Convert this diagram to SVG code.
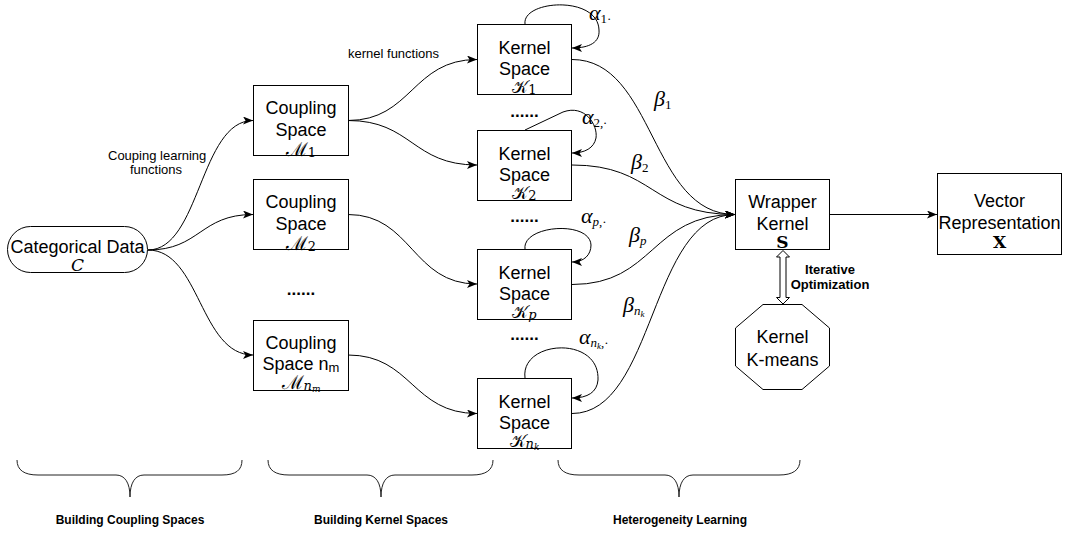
<svg xmlns="http://www.w3.org/2000/svg" width="1065" height="533" viewBox="0 0 1065 533">
  <style>
    .box { fill: #fff; stroke: #000; stroke-width: 1; }
    .edge { fill: none; stroke: #000; stroke-width: 1; }
    .lbl { font-family: "Liberation Sans", Arial, sans-serif; font-size: 18px; fill: #000; text-anchor: middle; }
    .small { font-family: "Liberation Sans", Arial, sans-serif; font-size: 13px; fill: #000; }
    .bold { font-family: "Liberation Sans", Arial, sans-serif; font-weight: bold; fill: #000; text-anchor: middle; }
    .dots { font-family: "Liberation Sans", Arial, sans-serif; font-weight: bold; font-size: 17px; fill: #000; text-anchor: middle; }
    .math { font-family: "DejaVu Serif", "Liberation Serif", serif; font-size: 17px; fill: #000; text-anchor: middle; }
    .cal { font-size: 19px; }
    .greek { font-family: "Liberation Serif", "DejaVu Serif", serif; font-style: italic; font-size: 22px; fill: #000; }
    .sub { font-size: 13px; }
    .subsub { font-size: 9px; }
  </style>
  <defs>
    <marker id="arrow" markerUnits="userSpaceOnUse" markerWidth="10" markerHeight="8" refX="10" refY="4" orient="auto">
      <path d="M0,0 L10,4 L0,8 L2.5,4 z" fill="#000"/>
    </marker>
  </defs>

  <!-- connectors -->
  <g id="connectors">
    <!-- categorical data to coupling spaces -->
    <path class="edge" d="M148,250 C200,250 200,120.5 253,120.5" marker-end="url(#arrow)"/>
    <path class="edge" d="M148,250 C200,250 200,214.5 253,214.5" marker-end="url(#arrow)"/>
    <path class="edge" d="M148,250 C200,250 200,355 253,355" marker-end="url(#arrow)"/>
    <!-- coupling spaces to kernel spaces -->
    <path class="edge" d="M348,120.5 C412,120.5 412,59.5 477,59.5" marker-end="url(#arrow)"/>
    <path class="edge" d="M348,120.5 C412,120.5 412,165 477,165" marker-end="url(#arrow)"/>
    <path class="edge" d="M348,214.5 C412,214.5 412,284 477,284" marker-end="url(#arrow)"/>
    <path class="edge" d="M348,355 C412,355 412,413.5 477,413.5" marker-end="url(#arrow)"/>
    <!-- kernel spaces to wrapper kernel -->
    <path class="edge" d="M572,59.5 C655,59.5 650,214.5 735,214.5" marker-end="url(#arrow)"/>
    <path class="edge" d="M572,165 C655,165 650,214.5 735,214.5" marker-end="url(#arrow)"/>
    <path class="edge" d="M572,284.5 C655,284.5 650,214.5 735,214.5" marker-end="url(#arrow)"/>
    <path class="edge" d="M572,413.5 C655,413.5 650,214.5 735,214.5" marker-end="url(#arrow)"/>
    <!-- self loops on kernel spaces -->
    <path class="edge" d="M525,24 C522,0 598,-5 599,30 C600,42 590,48 572,48" marker-end="url(#arrow)"/>
    <path class="edge" d="M525,130 L563,112 C585,104 598,125 596,138 C594,148 585,153 572,153" marker-end="url(#arrow)"/>
    <path class="edge" d="M525,249 C522,225 590,220 591,245 C591,255 584,262 572,262" marker-end="url(#arrow)"/>
    <path class="edge" d="M525,378 C520,340 600,335 598,380 C597,392 588,398 572,398" marker-end="url(#arrow)"/>
    <!-- wrapper kernel to vector representation -->
    <path class="edge" d="M830,214.5 L937,214.5" marker-end="url(#arrow)"/>
    <!-- iterative optimization (two-way block arrow) -->
    <polygon class="box" points="783,250.5 789.5,257 786,257 786,297.5 789.5,297.5 783,304 776.5,297.5 780,297.5 780,257 776.5,257"/>
  </g>

  <!-- edge labels -->
  <g id="edge-labels">
    <text class="small" x="108" y="160" font-size="14">Couping learning</text>
    <text class="small" x="156" y="174" font-size="14" text-anchor="middle">functions</text>
    <text class="small" x="348" y="58">kernel functions</text>

    <text class="greek" x="589" y="20">α<tspan class="sub" dy="3" font-style="normal">1·</tspan></text>
    <text class="greek" x="582" y="124">α<tspan class="sub" dy="3" font-style="normal">2</tspan><tspan class="sub">,·</tspan></text>
    <text class="greek" x="581" y="223">α<tspan class="sub" dy="3">p</tspan><tspan class="sub" font-style="normal">,·</tspan></text>
    <text class="greek" x="579" y="344">α<tspan class="sub" dy="3">n</tspan><tspan class="subsub" dy="2">k</tspan><tspan class="sub" dy="-2" font-style="normal">,·</tspan></text>

    <text class="greek" x="654" y="106">β<tspan class="sub" dy="3" font-style="normal">1</tspan></text>
    <text class="greek" x="631" y="169">β<tspan class="sub" dy="3" font-style="normal">2</tspan></text>
    <text class="greek" x="629" y="242">β<tspan class="sub" dy="3">p</tspan></text>
    <text class="greek" x="623" y="312">β<tspan class="sub" dy="3">n</tspan><tspan class="subsub" dy="2">k</tspan></text>

    <text class="bold" x="830" y="274" font-size="13">Iterative</text>
    <text class="bold" x="830" y="289" font-size="13">Optimization</text>
  </g>

  <!-- ellipsis markers between repeated nodes -->
  <g id="ellipses">
    <text class="dots" x="301" y="295">......</text>
    <text class="dots" x="524.5" y="117">......</text>
    <text class="dots" x="524.5" y="222">......</text>
    <text class="dots" x="524.5" y="340">......</text>
  </g>

  <!-- input -->
  <g id="categorical-data">
    <rect class="box" x="7.5" y="226.5" width="140" height="46" rx="23" ry="23"/>
    <text class="lbl" x="77.5" y="253">Categorical Data</text>
    <text class="math" x="77.5" y="271" font-family="Liberation Serif, serif" font-style="italic" font-size="19">C</text>
  </g>

  <!-- coupling spaces -->
  <g id="coupling-space-1">
    <rect class="box" x="253.5" y="85.5" width="95" height="70"/>
    <text class="lbl" x="301" y="114">Coupling</text>
    <text class="lbl" x="301" y="136">Space</text>
    <text class="math" x="301" y="156"><tspan class="cal">ℳ</tspan><tspan class="sub" dy="1">1</tspan></text>
  </g>
  <g id="coupling-space-2">
    <rect class="box" x="253.5" y="179.5" width="95" height="70"/>
    <text class="lbl" x="301" y="208">Coupling</text>
    <text class="lbl" x="301" y="230">Space</text>
    <text class="math" x="301" y="250"><tspan class="cal">ℳ</tspan><tspan class="sub" dy="1">2</tspan></text>
  </g>
  <g id="coupling-space-nm">
    <rect class="box" x="253.5" y="320.5" width="95" height="70"/>
    <text class="lbl" x="301" y="349">Coupling</text>
    <text class="lbl" x="301" y="370">Space n<tspan font-size="13" dy="2">m</tspan></text>
    <text class="math" x="301" y="389"><tspan class="cal">ℳ</tspan><tspan class="sub" dy="1" font-style="italic">n</tspan><tspan class="subsub" dy="2" font-style="italic">m</tspan></text>
  </g>

  <!-- kernel spaces -->
  <g id="kernel-space-1">
    <rect class="box" x="477.5" y="24.5" width="94" height="70"/>
    <text class="lbl" x="524.5" y="54">Kernel</text>
    <text class="lbl" x="524.5" y="75">Space</text>
    <text class="math" x="524.5" y="93">𝒦<tspan class="sub" dy="1">1</tspan></text>
  </g>
  <g id="kernel-space-2">
    <rect class="box" x="477.5" y="130.5" width="94" height="70"/>
    <text class="lbl" x="524.5" y="160">Kernel</text>
    <text class="lbl" x="524.5" y="181">Space</text>
    <text class="math" x="524.5" y="199">𝒦<tspan class="sub" dy="1">2</tspan></text>
  </g>
  <g id="kernel-space-p">
    <rect class="box" x="477.5" y="249.5" width="94" height="70"/>
    <text class="lbl" x="524.5" y="279">Kernel</text>
    <text class="lbl" x="524.5" y="300">Space</text>
    <text class="math" x="524.5" y="318">𝒦<tspan class="sub" dy="1" font-style="italic">p</tspan></text>
  </g>
  <g id="kernel-space-nk">
    <rect class="box" x="477.5" y="378.5" width="94" height="70"/>
    <text class="lbl" x="524.5" y="408">Kernel</text>
    <text class="lbl" x="524.5" y="429">Space</text>
    <text class="math" x="524.5" y="447">𝒦<tspan class="sub" dy="1" font-style="italic">n</tspan><tspan class="subsub" dy="2" font-style="italic">k</tspan></text>
  </g>

  <!-- wrapper kernel -->
  <g id="wrapper-kernel">
    <rect class="box" x="735.5" y="179.5" width="94" height="70"/>
    <text class="lbl" x="782.5" y="208">Wrapper</text>
    <text class="lbl" x="782.5" y="230">Kernel</text>
    <text class="math" x="782.5" y="247.5" font-family="Liberation Serif, serif" font-weight="bold" font-size="17">S</text>
  </g>

  <!-- kernel k-means -->
  <g id="kernel-kmeans">
    <polygon class="box" points="763,304.5 802,304.5 829.5,328 829.5,366 802,389.5 763,389.5 735.5,366 735.5,328"/>
    <text class="lbl" x="782.5" y="343">Kernel</text>
    <text class="lbl" x="782.5" y="366">K-means</text>
  </g>

  <!-- vector representation -->
  <g id="vector-representation">
    <rect class="box" x="937.5" y="173.5" width="124" height="81"/>
    <text class="lbl" x="999.5" y="207">Vector</text>
    <text class="lbl" x="999.5" y="229">Representation</text>
    <text class="math" x="999.5" y="247.5" font-family="Liberation Serif, serif" font-weight="bold" font-size="16">X</text>
  </g>

  <!-- stage braces -->
  <g id="stage-braces" fill="none" stroke="#222" stroke-width="1">
    <path d="M17,460 C17,470 24,475 38,475 L116,475 C125,475 130,483 130,497 C130,483 135,475 144,475 L222,475 C236,475 242,470 242,460"/>
    <path d="M268,460 C268,470 275,475 289,475 L367,475 C376,475 381,483 381,497 C381,483 386,475 395,475 L472,475 C486,475 493,470 493,460"/>
    <path d="M558,460 C558,470 565,475 579,475 L665,475 C674,475 679,483 679,497 C679,483 684,475 693,475 L779,475 C793,475 800,470 800,460"/>
  </g>
  <g id="stage-labels">
    <text class="bold" x="130" y="524" font-size="12">Building Coupling Spaces</text>
    <text class="bold" x="381" y="524" font-size="12">Building Kernel Spaces</text>
    <text class="bold" x="680" y="524" font-size="12">Heterogeneity Learning</text>
  </g>
</svg>
